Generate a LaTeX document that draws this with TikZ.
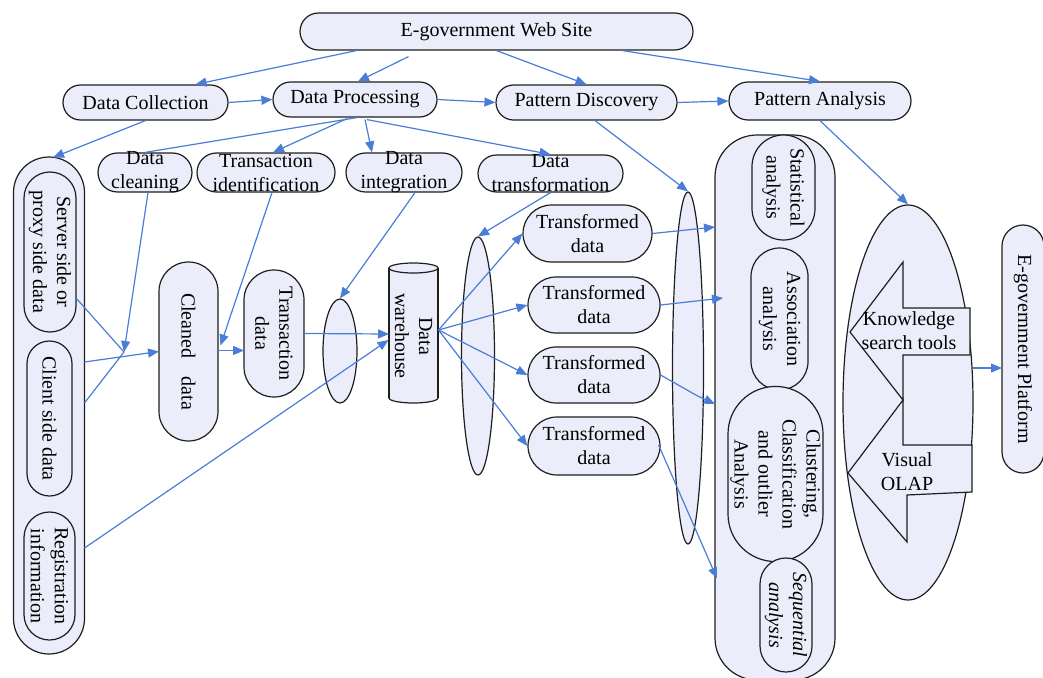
\documentclass[tikz,border=0pt]{standalone}
\usepackage{fontspec}
\setmainfont{Liberation Serif}
\usetikzlibrary{shapes.misc,shapes.geometric,arrows.meta,calc}
\definecolor{boxfill}{HTML}{ECEDFB}
\definecolor{arrblue}{HTML}{4A7DD6}
\definecolor{boxline}{HTML}{1E1E1E}
\newcommand{\diafont}{\fontsize{20}{24}\selectfont}
\begin{document}
\begin{tikzpicture}[x=1pt,y=-1pt,font=\diafont,
  rbox/.style={rounded rectangle, draw=boxline, line width=1.2pt, fill=boxfill, inner sep=0pt, align=center},
  rot/.style={rotate=-90},
  ell/.style={ellipse, draw=boxline, line width=1.2pt, fill=boxfill, inner sep=0pt},
  lbl/.style={align=center, inner sep=0pt},
  arr/.style={draw=arrblue, line width=1.2pt, -{Triangle[length=11pt,width=9pt]}},
  ln/.style={draw=arrblue, line width=1.2pt},
  shp/.style={draw=boxline, line width=1.2pt, fill=boxfill}]
\useasboundingbox (0,0) rectangle (1043,677);

% ---- left column
\node[rbox, rot, minimum width=497, minimum height=71] (outer) at (49,405.5) {};
\node[rbox, rot, minimum width=160, minimum height=52] (srv) at (50,252) {Server side or\\proxy side data};
\node[rbox, rot, minimum width=155, minimum height=45] (cli) at (49.5,418.5) {Client side data};
\node[rbox, rot, minimum width=128, minimum height=51] (reg) at (49.5,576) {Registration\\information};

% ---- top row
\node[rbox, minimum width=393, minimum height=37] (web) at (496.5,31.5) {E-government Web Site};
\node[rbox, minimum width=165, minimum height=35] (dc) at (145.5,102.5) {Data Collection};
\node[rbox, minimum width=164, minimum height=35] (dp) at (355,99.5) {Data Processing};
\node[rbox, minimum width=181, minimum height=35] (pd) at (586.5,102.5) {Pattern Discovery};
\node[rbox, minimum width=182, minimum height=38] (pa) at (820,101) {Pattern Analysis};

% ---- second row
\node[rbox, minimum width=94, minimum height=39, label={[lbl]center:Data\\cleaning}] (clean) at (145,172.5) {};
\node[rbox, minimum width=138, minimum height=39, label={[lbl]center:Transaction\\identification}] (tid) at (266,172.5) {};
\node[rbox, minimum width=116, minimum height=39, label={[lbl]center:Data\\integration}] (dint) at (404,172.5) {};
\node[rbox, minimum width=145, minimum height=37, label={[lbl]center:Data\\transformation}] (dtr) at (550.5,173.5) {};

% ---- middle
\node[rbox, rot, minimum width=179, minimum height=59] (cleaned) at (188.5,351.5) {Cleaned\hspace{18pt}data};
\node[rbox, rot, minimum width=127, minimum height=60] (tdata) at (274,333.5) {Transaction\\data};
\node[ell, minimum width=34, minimum height=104] (e1) at (340,351) {};

% data warehouse cylinder
\node[inner sep=0pt, minimum width=49, minimum height=140] (dw) at (413.5,333) {};
\fill[boxfill] (389,268) rectangle (438,398);
\begin{scope}
  \clip (384,398) rectangle (443,410);
  \draw[shp] (413.5,398) ellipse [x radius=24.5, y radius=5];
\end{scope}
\draw[boxline, line width=1.2pt] (389,268) -- (389,398) (438,268) -- (438,398);
\draw[shp] (413.5,268) ellipse [x radius=24.5, y radius=5];
\node[rot, lbl] (dwt) at (413.5,336) {Data\\warehouse};

\node[ell, minimum width=33, minimum height=238] (e2) at (478,356) {};
\node[rbox, minimum width=129, minimum height=57] (td1) at (587.5,233.5) {Transformed\\data};
\node[rbox, minimum width=132, minimum height=56] (td2) at (594,305) {Transformed\\data};
\node[rbox, minimum width=132, minimum height=56] (td3) at (594,375) {Transformed\\data};
\node[rbox, minimum width=132, minimum height=58] (td4) at (594,446) {Transformed\\data};
\node[ell, minimum width=31, minimum height=352] (e3) at (688,368) {};

% ---- analysis container
\node[shp, rounded corners=42pt, minimum width=120, minimum height=545, inner sep=0pt] (cont) at (775,407.5) {};
\node[rbox, rot, minimum width=105, minimum height=63] (stat) at (783.5,187.5) {Statistical\\analysis};
\node[rbox, rot, minimum width=142, minimum height=57] (assoc) at (779.5,319) {Association\\analysis};
\node[rbox, rot, minimum width=142, minimum height=95] (clust) at (775.5,474) {Clustering,\\Classification\\and outlier\\Analysis};
\node[rbox, rot, minimum width=114, minimum height=52, font=\diafont\itshape] (seq) at (786,615) {Sequential\\analysis};

% ---- knowledge ellipse
\node[ell, minimum width=130, minimum height=395] (bigell) at (908,402.5) {};
\draw[shp] (903,262) -- (903,308) -- (970,308) -- (970,355) -- (903,355) -- (903,400) -- (850,332) -- cycle;
\draw[shp] (903,400) -- (848,473) -- (907,542) -- (907,495) -- (972,492) -- (972,445) -- (903,445) -- cycle;
\node[lbl] (kst) at (909,331) {Knowledge\\search tools};
\node[lbl] (vol) at (907,472) {Visual\\OLAP};

% ---- platform
\node[rbox, rot, minimum width=248, minimum height=42] (plat) at (1023,349) {E-government Platform};

% ---- connectors
\coordinate (J) at (124,352);
\coordinate (dwR) at ($(dw.center)+(25,-3)$);

\draw[arr] ($(web.south)+(-140,0)$) -- ($(dc.north)+(50,0)$);
\draw[arr] ($(web.south)+(-88,6)$) -- ($(dp.north)+(3,0)$);
\draw[arr] (web.south) -- (pd.north);
\draw[arr] ($(web.south)+(126,0)$) -- (pa.north);
\draw[arr] (dc.east) -- (dp.west);
\draw[arr] (dp.east) -- (pd.west);
\draw[arr] (pd.east) -- (pa.west);
\draw[arr] (dc.south) -- ($(outer.center)+(4,-248)$);
\draw[ln]  ($(dp.south)+(2,0)$) -- (clean.north);
\draw[arr] ($(dp.south)+(-8,1)$) -- ($(tid.north)+(7,0)$);
\draw[arr] ($(dp.south)+(10,2)$) -- ($(dint.north)+(-32,0)$);
\draw[arr] ($(dp.south)+(12,2)$) -- (dtr.north);
\draw[arr] ($(pd.south)+(8.5,0)$) -- (e3.north);
\draw[arr] (pa.south) -- (bigell.north);

\draw[arr] ($(clean.south)+(3,0)$) -- (J);
\draw[ln]  ($(srv.center)+(26,46)$) -- (J);
\draw[ln]  ($(outer.center)+(35.5,-2.5)$) -- (J);
\draw[arr] ($(outer.center)+(35.5,-43.5)$) -- ($(cleaned.center)+(-29.5,0)$);
\draw[arr] ($(tid.south)+(6,0)$) -- ($(cleaned.center)+(32,-6)$);
\draw[arr] ($(cleaned.center)+(30,-1)$) -- ($(tdata.center)+(-30,17)$);
\draw[arr] ($(dint.south)+(11,0)$) -- (e1.north);
\draw[arr] ($(tdata.center)+(30,0)$) -- ($(dw.center)+(-24.5,1)$);
\draw[arr] ($(outer.center)+(35.5,142.5)$) -- ($(dw.center)+(-25,7)$);

\draw[arr] (dwR) -- (td1.west);
\draw[arr] (dwR) -- (td2.west);
\draw[arr] (dwR) -- (td3.west);
\draw[arr] (dwR) -- (td4.west);
\draw[arr] (dtr.south) -- (e2.north);

\draw[arr] (td1.east) -- ($(cont.center)+(-60,-180.5)$);
\draw[arr] (td2.east) -- ($(cont.center)+(-52,-109.5)$);
\draw[arr] (td3.east) -- ($(td3.east)+(37,21)$) -- ($(cont.center)+(-60,-3.5)$);
\draw[arr] ($(td4.east)+(-2,-1)$) -- ($(cont.center)+(-58,171)$);
\draw[arr] ($(bigell.center)+(65,-34.5)$) -- ($(plat.center)+(-21,19)$);
\end{tikzpicture}
\end{document}
